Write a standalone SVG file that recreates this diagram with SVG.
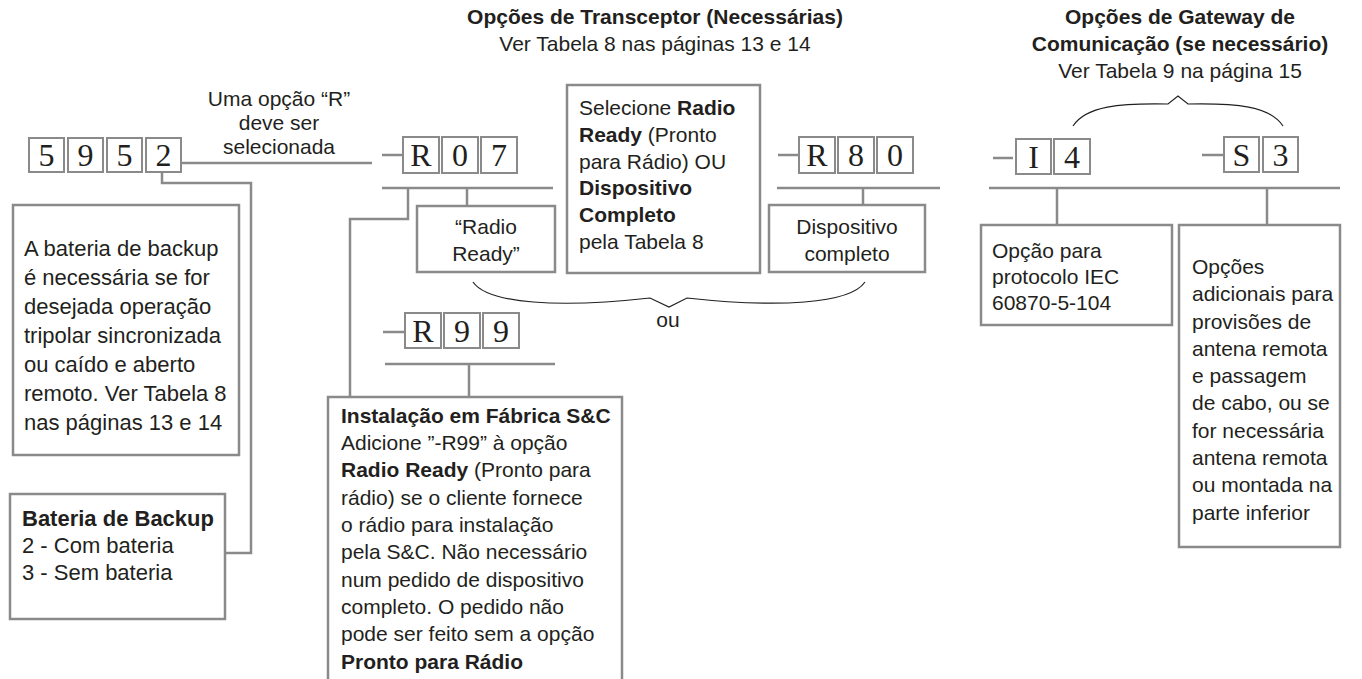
<svg xmlns="http://www.w3.org/2000/svg" width="1362" height="679" viewBox="0 0 1362 679">
<style>
.t{font-family:"Liberation Sans",Arial,sans-serif;font-size:21px;fill:#231f20}
.l{font-size:22px}
.b{font-weight:bold}
.m{text-anchor:middle}
.box{fill:#fff;stroke:#8a8a8a;stroke-width:2.5}
.dg{fill:#fff;stroke:#8a8a8a;stroke-width:2}
.d{font-family:"Liberation Serif","Times New Roman",serif;font-size:32px;fill:#231f20;text-anchor:middle}
.ln{fill:none;stroke:#8a8a8a;stroke-width:2.5}
.br{fill:none;stroke:#231f20;stroke-width:1.2}
</style>
<rect width="1362" height="679" fill="#fff"/>

<g id="titles">
<text class="t b m" x="655" y="24">Opções de Transceptor (Necessárias)</text>
<text class="t m" x="655" y="51">Ver Tabela 8 nas páginas 13 e 14</text>
<text class="t b m" x="1180" y="24">Opções de Gateway de</text>
<text class="t b m" x="1180" y="51">Comunicação (se necessário)</text>
<text class="t m" x="1180" y="78">Ver Tabela 9 na página 15</text>
<text class="t m" x="279" y="106">Uma opção “R”</text>
<text class="t m" x="279" y="130">deve ser</text>
<text class="t m" x="279" y="154">selecionada</text>
<text class="t m" x="668" y="327">ou</text>
</g>

<g id="connectors">
<path class="ln" d="M181,163 H372"/>
<path class="ln" d="M162,172 V183 H251 V553 H225"/>
<path class="ln" d="M382,155 H402"/>
<path class="ln" d="M382,188 H553"/>
<path class="ln" d="M408,188 V219 H350 V397"/>
<path class="ln" d="M467,188 V206"/>
<path class="ln" d="M778,155 H798"/>
<path class="ln" d="M777,188 H940"/>
<path class="ln" d="M863,188 V205"/>
<path class="ln" d="M383,332 H404"/>
<path class="ln" d="M385,364 H555"/>
<path class="ln" d="M469,364 V397"/>
<path class="ln" d="M993,158 H1013"/>
<path class="ln" d="M1202,155 H1223"/>
<path class="ln" d="M989,188 H1340"/>
<path class="ln" d="M1057,188 V225"/>
<path class="ln" d="M1267,188 V225"/>
<path class="br" d="M473,282 C488,304 560,308 650,298 L669,307 L687,298 C778,308 850,304 865,282"/>
<path class="br" d="M1073,126 C1086,106 1120,103 1168,104 L1178,96 L1188,104 C1236,103 1270,106 1283,126"/>
</g>

<g id="code-5952">
<rect class="dg" x="29" y="138" width="35" height="34"/>
<rect class="dg" x="68" y="138" width="35" height="34"/>
<rect class="dg" x="107" y="138" width="35" height="34"/>
<rect class="dg" x="146" y="138" width="35" height="34"/>
<text class="d" x="46.5" y="166">5</text>
<text class="d" x="85.5" y="166">9</text>
<text class="d" x="124.5" y="166">5</text>
<text class="d" x="163.5" y="166">2</text>
</g>

<g id="code-R07">
<rect class="dg" x="403" y="137" width="36" height="36"/>
<rect class="dg" x="442" y="137" width="36" height="36"/>
<rect class="dg" x="481" y="137" width="36" height="36"/>
<text class="d" x="421" y="166">R</text>
<text class="d" x="460" y="166">0</text>
<text class="d" x="499" y="166">7</text>
</g>

<g id="code-R80">
<rect class="dg" x="799" y="137" width="36" height="36"/>
<rect class="dg" x="838" y="137" width="36" height="36"/>
<rect class="dg" x="877" y="137" width="36" height="36"/>
<text class="d" x="817" y="166">R</text>
<text class="d" x="856" y="166">8</text>
<text class="d" x="895" y="166">0</text>
</g>

<g id="code-R99">
<rect class="dg" x="405" y="313" width="36" height="35"/>
<rect class="dg" x="444" y="313" width="36" height="35"/>
<rect class="dg" x="483" y="313" width="36" height="35"/>
<text class="d" x="423" y="342">R</text>
<text class="d" x="462" y="342">9</text>
<text class="d" x="501" y="342">9</text>
</g>

<g id="code-I4">
<rect class="dg" x="1016" y="139" width="35" height="35"/>
<rect class="dg" x="1054" y="139" width="36" height="35"/>
<text class="d" x="1033.5" y="168">I</text>
<text class="d" x="1072" y="168">4</text>
</g>

<g id="code-S3">
<rect class="dg" x="1224" y="137" width="35" height="35"/>
<rect class="dg" x="1263" y="137" width="35" height="35"/>
<text class="d" x="1241.5" y="166">S</text>
<text class="d" x="1280.5" y="166">3</text>
</g>

<g id="box-bateria-info">
<rect class="box" x="13" y="205" width="226" height="250"/>
<text class="t l" x="24" y="256">A bateria de backup</text>
<text class="t l" x="24" y="285">é necessária se for</text>
<text class="t l" x="24" y="314">desejada operação</text>
<text class="t l" x="24" y="343">tripolar sincronizada</text>
<text class="t l" x="24" y="372">ou caído e aberto</text>
<text class="t l" x="24" y="401">remoto. Ver Tabela 8</text>
<text class="t l" x="24" y="430">nas páginas 13 e 14</text>
</g>

<g id="box-bateria-backup">
<rect class="box" x="10" y="494" width="215" height="125"/>
<text class="t l b" x="22" y="526">Bateria de Backup</text>
<text class="t l" x="22" y="553">2 - Com bateria</text>
<text class="t l" x="22" y="580">3 - Sem bateria</text>
</g>

<g id="box-radio-ready">
<rect class="box" x="417" y="206" width="138" height="66"/>
<text class="t m" x="486" y="234">“Radio</text>
<text class="t m" x="486" y="261">Ready”</text>
</g>

<g id="box-selecione">
<rect class="box" x="567" y="85" width="193" height="188"/>
<text class="t" x="579" y="115">Selecione <tspan class="b">Radio</tspan></text>
<text class="t" x="579" y="142"><tspan class="b">Ready</tspan> (Pronto</text>
<text class="t" x="579" y="169">para Rádio)  OU</text>
<text class="t b" x="579" y="195">Dispositivo</text>
<text class="t b" x="579" y="222">Completo</text>
<text class="t" x="579" y="249">pela Tabela 8</text>
</g>

<g id="box-dispositivo">
<rect class="box" x="769" y="205" width="156" height="67"/>
<text class="t m" x="847" y="234">Dispositivo</text>
<text class="t m" x="847" y="261">completo</text>
</g>

<g id="box-instalacao">
<rect class="box" x="328" y="397" width="294" height="300"/>
<text class="t b" x="341" y="423">Instalação em Fábrica S&amp;C</text>
<text class="t" x="341" y="450">Adicione ”-R99” à opção</text>
<text class="t" x="341" y="477"><tspan class="b">Radio Ready</tspan> (Pronto para</text>
<text class="t" x="341" y="505">rádio) se o cliente fornece</text>
<text class="t" x="341" y="532">o rádio para instalação</text>
<text class="t" x="341" y="559">pela S&amp;C. Não necessário</text>
<text class="t" x="341" y="587">num pedido de dispositivo</text>
<text class="t" x="341" y="614">completo. O pedido não</text>
<text class="t" x="341" y="641">pode ser feito sem a opção</text>
<text class="t b" x="341" y="669">Pronto para Rádio</text>
</g>

<g id="box-iec">
<rect class="box" x="981" y="225" width="191" height="100"/>
<text class="t" x="992" y="258">Opção para</text>
<text class="t" x="992" y="284">protocolo IEC</text>
<text class="t" x="992" y="310">60870-5-104</text>
</g>

<g id="box-antena">
<rect class="box" x="1179" y="225" width="161" height="322"/>
<text class="t" x="1192" y="274">Opções</text>
<text class="t" x="1192" y="301">adicionais para</text>
<text class="t" x="1192" y="329">provisões de</text>
<text class="t" x="1192" y="356">antena remota</text>
<text class="t" x="1192" y="383">e passagem</text>
<text class="t" x="1192" y="410">de cabo, ou se</text>
<text class="t" x="1192" y="438">for necessária</text>
<text class="t" x="1192" y="465">antena remota</text>
<text class="t" x="1192" y="492">ou montada na</text>
<text class="t" x="1192" y="520">parte inferior</text>
</g>
</svg>
